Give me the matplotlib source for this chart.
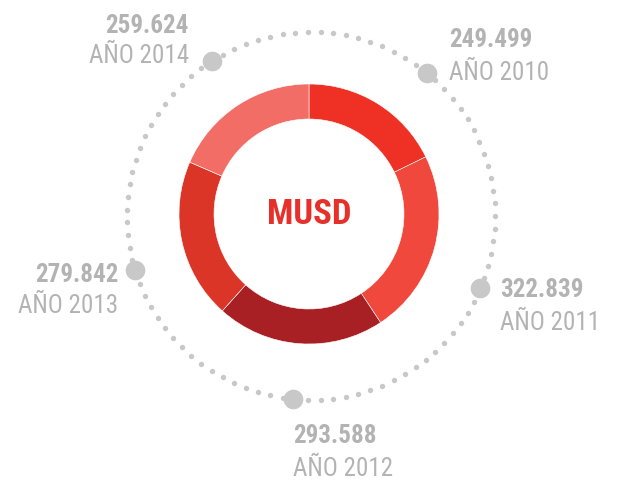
import numpy as np
import matplotlib
matplotlib.use("Agg")
import matplotlib.pyplot as plt

plt.rcParams['font.family'] = ['Roboto Condensed', 'Archivo Narrow', 'Barlow Semi Condensed', 'DejaVu Sans']

# data
years = ["AÑO 2010", "AÑO 2011", "AÑO 2012", "AÑO 2013", "AÑO 2014"]
values = [249.499, 322.839, 293.588, 279.842, 259.624]
value_labels = ["249.499", "322.839", "293.588", "279.842", "259.624"]
colors = ["#EE3124", "#F0483C", "#A81F24", "#DB3528", "#F26D65"]

# layout (pixel coords, y measured from the top of the image)
W, H = 621, 480
donut_c = (309, 214)
ring_c = (311, 216)
ring_r = 184
dot_angles = [51.1, -23.2, -95.6, -162.8, 122.4]
# text anchor x, number baseline y, label baseline y, alignment
text_pos = [
    (449, 47, 80, "left"),
    (500, 297, 330, "left"),
    (293, 443, 476, "left"),
    (118, 282, 313, "right"),
    (189, 33, 63, "right"),
]
gray_txt = "#B3B3B3"
gray_dot = "#C8C8C8"

fig = plt.figure(figsize=(W / 100, H / 100), dpi=100)
ax = fig.add_axes([0, 0, 1, 1])

def fy(y):
    return H - y

# dotted ring
t = np.linspace(0, 2 * np.pi, 91, endpoint=False)
ax.scatter(ring_c[0] + ring_r * np.cos(t), fy(ring_c[1]) + ring_r * np.sin(t),
           s=15, color=gray_dot, linewidths=0, zorder=1)

# big dots
a = np.radians(dot_angles)
ax.scatter(ring_c[0] + ring_r * np.cos(a), fy(ring_c[1]) + ring_r * np.sin(a),
           s=200, color=gray_dot, linewidths=0, zorder=2)

# donut
ax.pie(values, colors=colors, startangle=90, counterclock=False,
       radius=130, center=(donut_c[0], fy(donut_c[1])),
       wedgeprops=dict(width=35, edgecolor="white", linewidth=0.4))

ax.text(donut_c[0], fy(donut_c[1]), "MUSD", ha="center", va="center",
        fontsize=25, fontweight="bold", color="#E8302A")

for (x, yn, yl, ha), num, lab in zip(text_pos, value_labels, years):
    ax.text(x, fy(yn), num, ha=ha, va="baseline", fontsize=18,
            fontweight="bold", color=gray_txt)
    ax.text(x, fy(yl), lab, ha=ha, va="baseline", fontsize=18,
            color=gray_txt)

ax.set_xlim(0, W)
ax.set_ylim(0, H)
ax.set_aspect("equal")
ax.axis("off")

fig.savefig("out.png", dpi=100)
